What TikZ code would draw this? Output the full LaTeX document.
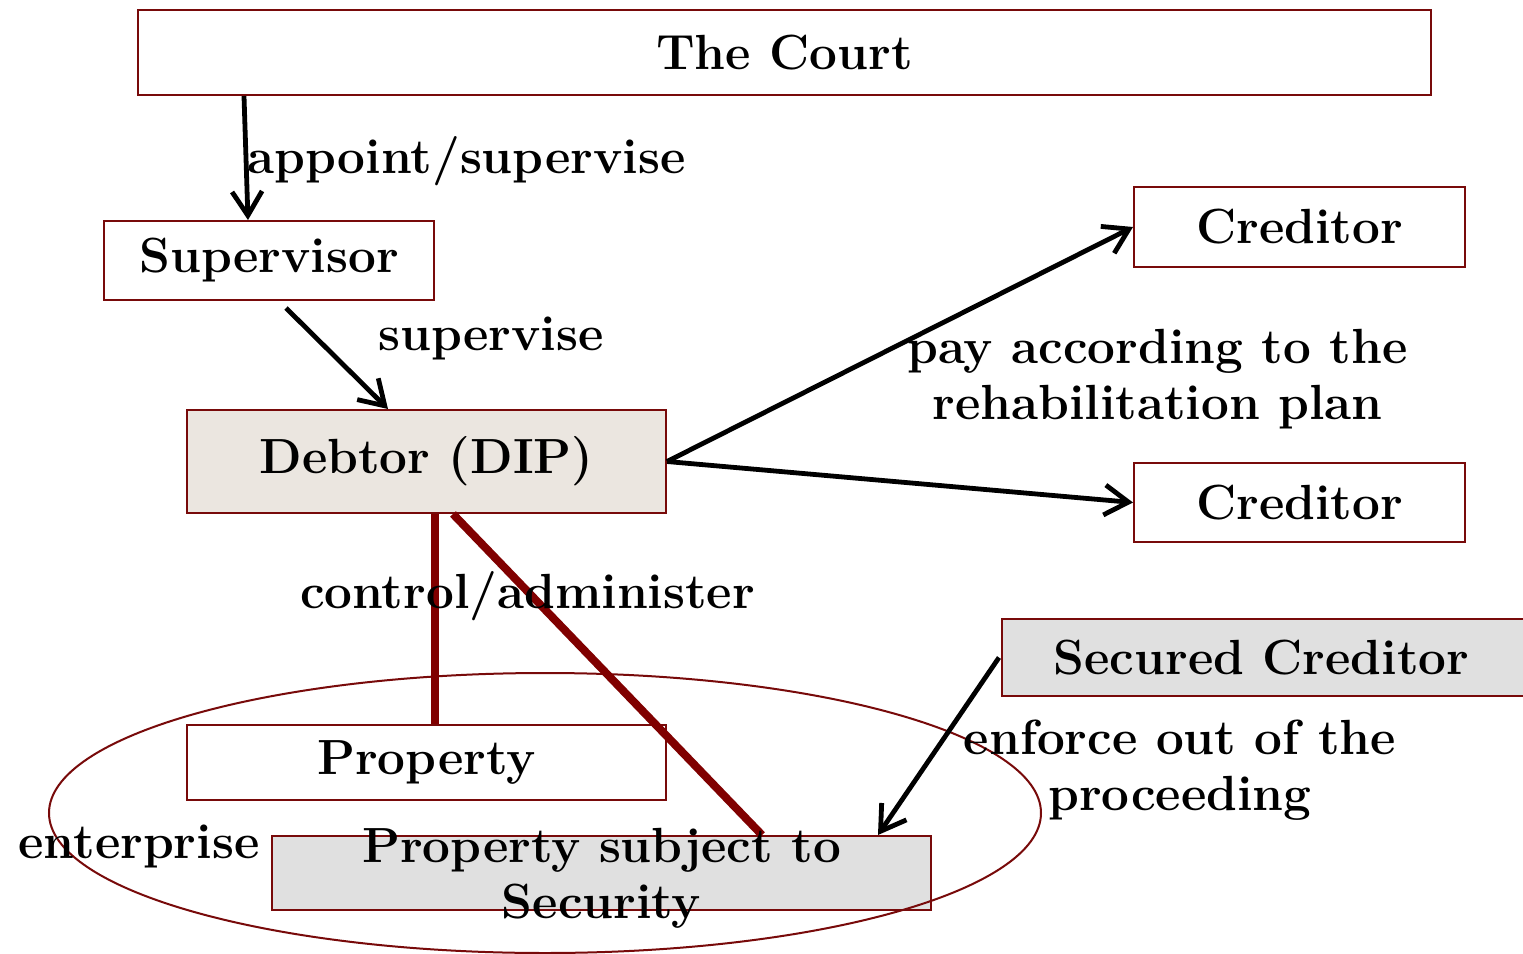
\documentclass[tikz,border=0pt]{standalone}
\usetikzlibrary{arrows.meta,shapes.geometric}
\definecolor{boxred}{RGB}{120,10,10}
\definecolor{linered}{RGB}{128,0,0}
\definecolor{beige}{RGB}{235,230,224}
\definecolor{lgray}{RGB}{224,224,224}
\begin{document}
\begin{tikzpicture}[x=0.5pt,y=-0.5pt,
  txt/.style={font=\fontsize{24.7}{28}\selectfont\bfseries, text=black},
  box/.style={draw=boxred, line width=1pt, fill=white, inner sep=0pt, txt},
  beigebox/.style={box, fill=beige},
  graybox/.style={box, fill=lgray},
  lbl/.style={txt, inner sep=0pt, align=center},
  arr/.style={draw=black, line width=2.4pt, -{Straight Barb[length=12pt,width=15pt,line width=2.4pt]}},
  redline/.style={draw=linered, line width=4pt}]
\useasboundingbox (0,0) rectangle (1523,954);
\fill[white] (0,0) rectangle (1523,954);

% boxes
\node[box, minimum width=646.5pt, minimum height=42.5pt] (court) at (784.5,52.5) {The Court};
\node[box, minimum width=165pt, minimum height=39.5pt] (sup) at (269,260.5) {Supervisor};
\node[beigebox, minimum width=239.5pt, minimum height=51.5pt] (debtor) at (426.5,461.5) {Debtor (DIP)};
\node[box, minimum width=165.5pt, minimum height=40pt] (cred1) at (1299.5,227) {Creditor};
\node[box, minimum width=165.5pt, minimum height=39.5pt] (cred2) at (1299.5,502.5) {Creditor};
\node[graybox, minimum width=261.5pt, minimum height=38.5pt] (secured) at (1263.5,657.5) {\hspace*{-2pt}Secured Creditor};
\node[box, minimum width=239.5pt, minimum height=37.5pt] (property) at (426.5,762.5) {Property};
\node[graybox, minimum width=329.5pt, minimum height=37pt] (pss) at (601.5,873) {};

% enterprise ellipse
\node[ellipse, draw=boxred, line width=1pt, minimum width=496pt, minimum height=140pt, inner sep=0pt] (ent) at (545,813) {};

% red lines
\draw[redline] ([xshift=4.25pt]debtor.south) -- ([xshift=4.25pt]property.north);
\draw[redline] ([xshift=13.25pt]debtor.south) -- ([xshift=245.5pt]pss.north west);

% arrows
\draw[arr] ([xshift=53.5pt]court.south west) -- ([xshift=72.5pt]sup.north west);
\draw[arr] ([xshift=91.5pt,yshift=-3.5pt]sup.south west) -- ([xshift=101pt]debtor.north west);
\draw[arr] (debtor.east) -- (cred1.west);
\draw[arr] (debtor.east) -- (cred2.west);
\draw[arr] ([xshift=-1pt]secured.west) -- ([xshift=-27pt]pss.north east);

% labels
\node[lbl] (pssl) at (601.5,878) {Property subject to\\Security};
\node[lbl] (l1) at (466.5,161) {appoint/supervise};
\node[lbl] (l2) at (491,338) {supervise};
\node[lbl] (l3) at (1157.5,379) {pay according to the\\rehabilitation plan};
\node[lbl] (l4) at (527.5,596) {control/administer};
\node[lbl] (l5) at (1180,770) {enforce out of the\\proceeding};
\node[lbl] (l6) at (139,846) {enterprise};
\end{tikzpicture}
\end{document}
